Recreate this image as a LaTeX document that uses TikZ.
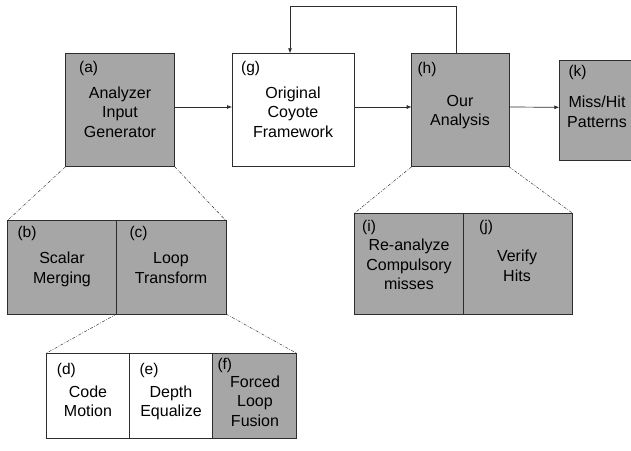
\documentclass[tikz,border=0pt]{standalone}
\usepackage{fontspec}
\setmainfont{Liberation Sans}
\usetikzlibrary{arrows.meta}
\definecolor{boxgray}{RGB}{166,166,166}
\definecolor{edgegray}{RGB}{45,45,45}
\tikzset{
  box/.style={draw=edgegray, line width=0.8pt, inner sep=0pt, outer sep=0pt},
  gbox/.style={box, fill=boxgray},
  wbox/.style={box, fill=white},
  txt/.style={inner sep=0pt, align=center, font=\fontsize{16}{19.5}\selectfont},
  lbl/.style={inner sep=0pt, anchor=west, font=\fontsize{15.5}{18}\selectfont},
  arr/.style={draw=edgegray, line width=0.7pt, -{Latex[length=5pt,width=4pt]}},
  zoomline/.style={draw=edgegray, line width=0.45pt, dash pattern=on 3pt off 1.5pt on 0.8pt off 1.5pt}
}
\begin{document}
\begin{tikzpicture}[x=1pt,y=-1pt]
\useasboundingbox (0,0) rectangle (631,450);
% main row
\node[gbox, minimum width=109.2pt, minimum height=113.4pt] (a) at (120.1,110) {};
\node[wbox, minimum width=122.3pt, minimum height=113.4pt] (g) at (293.2,110) {};
\node[gbox, minimum width=97.3pt, minimum height=113.4pt] (h) at (460.3,110) {};
\node[gbox, minimum width=81pt, minimum height=100pt] (k) at (599.8,110.3) {};
% second level
\node[gbox, minimum width=109.4pt, minimum height=93.3pt] (b) at (62,267.3) {};
\node[gbox, minimum width=109.3pt, minimum height=93.3pt] (c) at (171.3,267.3) {};
\node[gbox, minimum width=109pt, minimum height=100.7pt] (i) at (408.8,263.7) {};
\node[gbox, minimum width=109.4pt, minimum height=100.7pt] (j) at (518,263.7) {};
% third level
\node[wbox, minimum width=83.3pt, minimum height=85pt] (d) at (87.7,395.8) {};
\node[wbox, minimum width=83.4pt, minimum height=85pt] (e) at (171,395.8) {};
\node[gbox, minimum width=84pt, minimum height=85pt] (f) at (254.7,395.8) {};
% labels
\node[lbl] (la) at (79,68) {(a)};
\node[lbl] (lg) at (241,68) {(g)};
\node[lbl] (lh) at (417.3,69) {(h)};
\node[lbl] (lk) at (568.3,72) {(k)};
\node[lbl] (lb) at (17.3,233) {(b)};
\node[lbl] (lc) at (129.3,233) {(c)};
\node[lbl] (ld) at (56.7,370) {(d)};
\node[lbl] (le) at (139.3,370) {(e)};
\node[lbl] (lf) at (217.3,365) {(f)};
\node[lbl] (li) at (362,227.7) {(i)};
\node[lbl] (lj) at (479,227.7) {(j)};
% texts
\node[txt] (ta) at (120,112) {Analyzer\\Input\\Generator};
\node[txt] (tg) at (293,112) {Original\\Coyote\\Framework};
\node[txt] (th) at (460,112.3) {Our\\Analysis};
\node[txt] (tk) at (597,112) {Miss/Hit\\Patterns};
\node[txt] (tb) at (62,269.5) {Scalar\\Merging};
\node[txt] (tc) at (171,268) {Loop\\Transform};
\node[txt] (td) at (88,401.3) {Code\\Motion};
\node[txt] (te) at (171,403) {Depth\\Equalize};
\node[txt] (tf) at (255,401) {Forced\\Loop\\Fusion};
\node[txt] (ti) at (409,264.5) {Re-analyze\\Compulsory\\misses};
\node[txt] (tj) at (517,266) {Verify\\Hits};
% connectors
\coordinate (fb) at (373,6.7);
\draw[arr] ([yshift=3pt]a.east) -- ([yshift=3pt]g.west);
\draw[arr] ([yshift=3pt]g.east) -- ([yshift=3pt]h.west);
\draw[arr] ([yshift=3pt]h.east) -- ([yshift=3pt]k.west);
\draw[arr] ([xshift=-3.6pt]h.north) |- (fb) -| ([xshift=-3.2pt]g.north);
% zoom lines
\draw[zoomline] (a.south west) -- (b.north west);
\draw[zoomline] (a.south east) -- (c.north east);
\draw[zoomline] (c.south west) -- (d.north west);
\draw[zoomline] (c.south east) -- (f.north east);
\draw[zoomline] (h.south west) -- (i.north west);
\draw[zoomline] (h.south east) -- (j.north east);
\end{tikzpicture}
\end{document}
